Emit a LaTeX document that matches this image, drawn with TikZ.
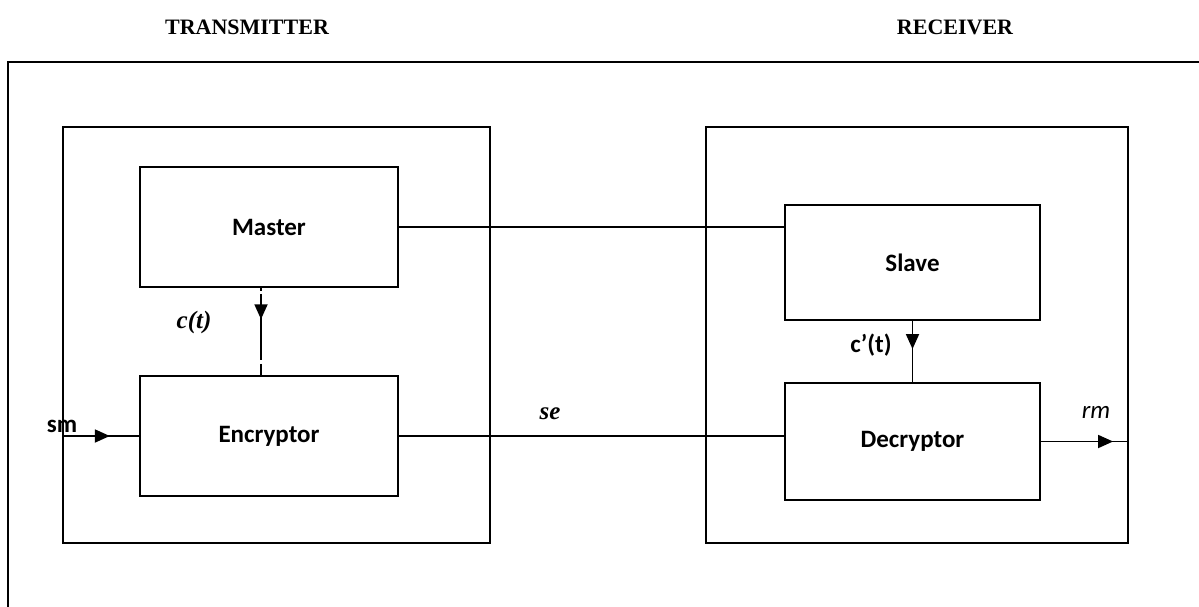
\documentclass[tikz,border=0pt]{standalone}
\usepackage{fontspec}
\setmainfont{Liberation Serif}
\newfontfamily\calib{Carlito}
\usetikzlibrary{arrows.meta,decorations.markings}
\begin{document}
\begin{tikzpicture}[x=1pt,y=-1pt,
  box/.style={draw,line width=1.8pt,inner sep=0pt},
  blk/.style={box,font=\calib\bfseries\fontsize{25}{28}\selectfont},
  wire/.style={line width=1.8pt},
  midarrow/.style={postaction={decorate},decoration={markings,
     mark=at position #1 with {\arrow{Triangle[length=15pt,width=13pt]}}}},
  title/.style={font=\bfseries\fontsize{22}{26}\selectfont},
  lab/.style={font=\calib\bfseries\fontsize{25}{28}\selectfont},
  mlab/.style={font=\itshape\fontsize{25}{28}\selectfont},
]
\useasboundingbox (0,0) rectangle (1199,607);
% outer frame (open at right and bottom)
\draw[wire] (8,607) -- (8,62) -- (1199,62);
\node[title] (ttx) at (247,27) {TRANSMITTER};
\node[title] (trx) at (955,27) {RECEIVER};
% big boxes
\node[box,minimum width=427pt,minimum height=416pt] (tx) at (276.5,335) {};
\node[box,minimum width=422pt,minimum height=416pt] (rx) at (917,335) {};
% blocks
\node[blk,minimum width=258pt,minimum height=120pt] (master) at (269,227) {Master};
\node[blk,minimum width=258pt,minimum height=120pt] (enc) at (269,436) {Encryptor};
\node[blk,minimum width=255pt,minimum height=115pt] (slave) at (912.5,262.5) {Slave};
\node[blk,minimum width=255pt,minimum height=117pt] (dec) at (912.5,441.5) {Decryptor};
% connectors
\draw[wire] (master.east) -- (master.east -| slave.west);
\draw[wire] (enc.east) -- (enc.east -| dec.west);
\draw[wire,midarrow=0.36,dash pattern=on 3pt off 3pt on 66pt off 4pt on 30pt]
  ([xshift=-8pt]master.south) -- ([xshift=-8pt]master.south |- enc.north);
\draw[wire,midarrow=0.46] (slave.south) -- (dec.north);
\draw[wire,midarrow=0.62] (tx.west |- enc.west) -- (enc.west);
\draw[wire,midarrow=0.82] (dec.east) -- (dec.east -| rx.east);
% labels
\node[mlab] (ct) at (194,322) {\bfseries c(t)};
\node[mlab] (se) at (550,414) {\bfseries se};
\node[lab] (cpt) at (871,345) {c’(t)};
\node[lab] (sm) at (62,426) {sm};
\node[font=\calib\itshape\fontsize{25}{28}\selectfont] (rm) at (1096,412) {rm};
\end{tikzpicture}
\end{document}
